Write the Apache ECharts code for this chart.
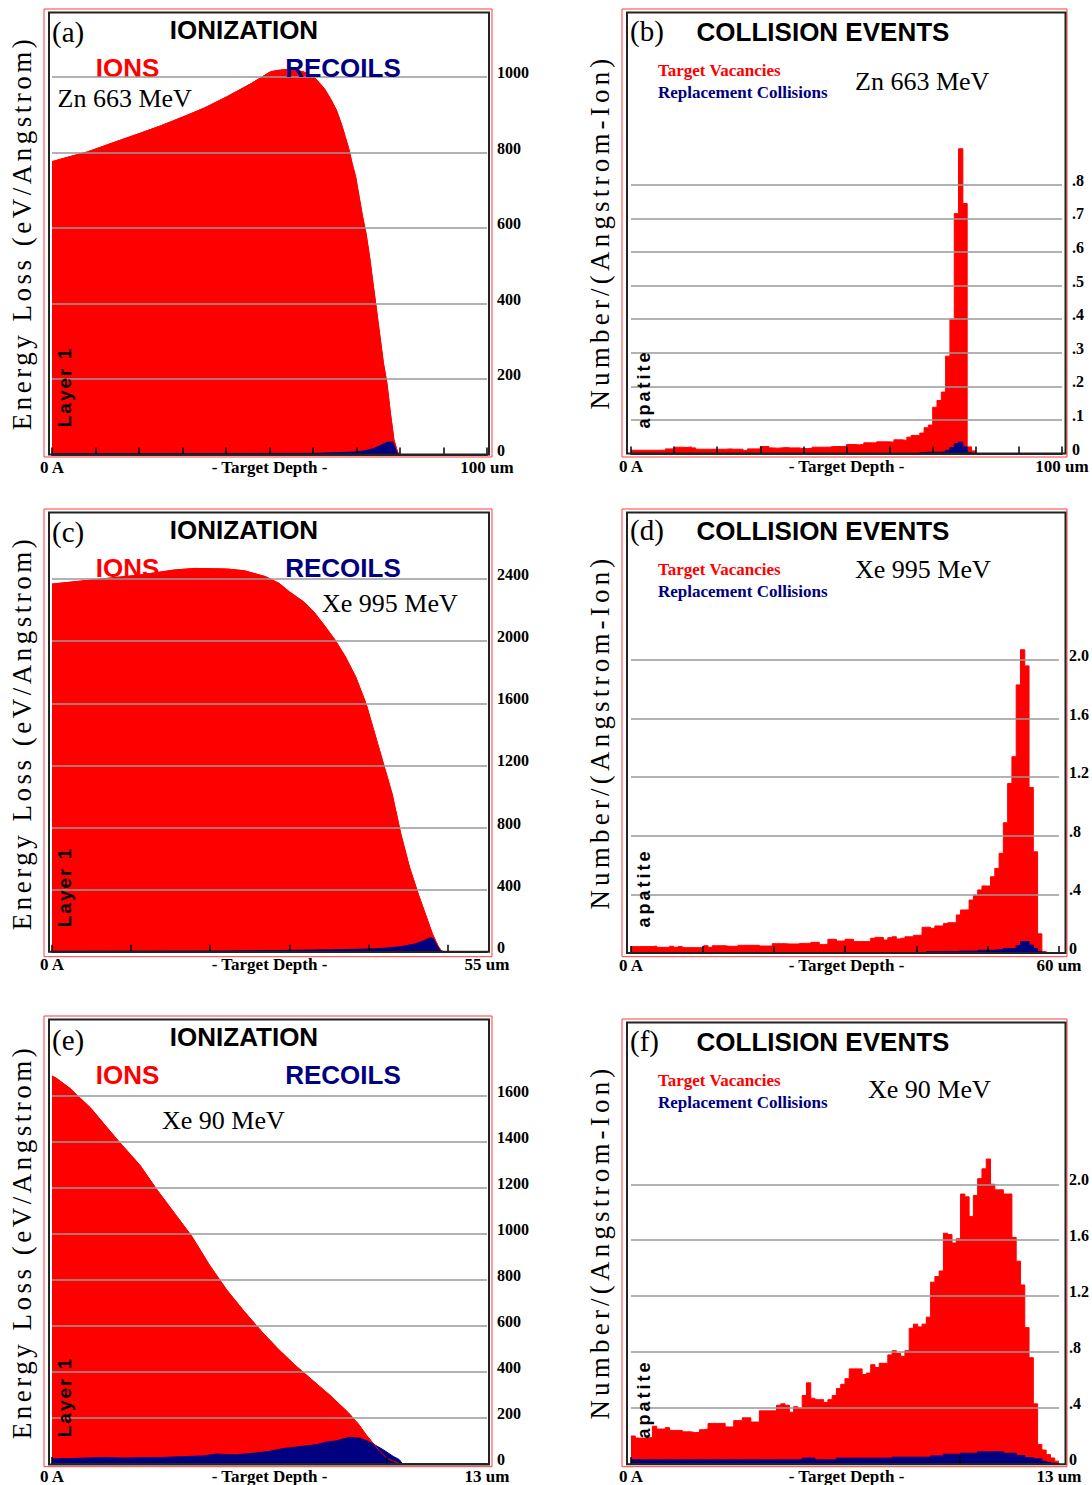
<!DOCTYPE html>
<html><head><meta charset="utf-8">
<script src="https://cdn.jsdelivr.net/npm/echarts@6/dist/echarts.min.js"></script>
<style>html,body{margin:0;padding:0;background:#fff}#c{width:1092px;height:1485px}</style>
</head><body><div id="c"></div>
<script>
// ================= DATA =================
const panelLetters = ['(a)', '(b)', '(c)', '(d)', '(e)', '(f)'];
const beamLabels = ['Zn 663 MeV', 'Zn 663 MeV', 'Xe 995 MeV', 'Xe 995 MeV', 'Xe 90 MeV', 'Xe 90 MeV'];
const depthMax = [100, 100, 55, 60, 13, 13];
const depthEndLabels = ['100 um', '100 um', '55 um', '60 um', '13 um', '13 um'];
const xTickValues = [
  [0, 10, 20, 30, 40, 50, 60, 70, 80, 90, 100],
  [0, 10, 20, 30, 40, 50, 60, 70, 80, 90, 100],
  [0, 10, 20, 30, 40, 50],
  [0, 10, 20, 30, 40, 50, 60],
  [0, 10],
  [0, 10]
];
const yAxisMax = [1170, 1.311, 2826, 3.004, 1924, 3.16];
const yTickValues = [
  [0, 200, 400, 600, 800, 1000],
  [0, 0.1, 0.2, 0.3, 0.4, 0.5, 0.6, 0.7, 0.8],
  [0, 400, 800, 1200, 1600, 2000, 2400],
  [0, 0.4, 0.8, 1.2, 1.6, 2.0],
  [0, 200, 400, 600, 800, 1000, 1200, 1400, 1600],
  [0, 0.4, 0.8, 1.2, 1.6, 2.0]
];
const yTickLabels = [
  ['0', '200', '400', '600', '800', '1000'],
  ['0', '.1', '.2', '.3', '.4', '.5', '.6', '.7', '.8'],
  ['0', '400', '800', '1200', '1600', '2000', '2400'],
  ['0', '.4', '.8', '1.2', '1.6', '2.0'],
  ['0', '200', '400', '600', '800', '1000', '1200', '1400', '1600'],
  ['0', '.4', '.8', '1.2', '1.6', '2.0']
];

// (a) Ionization, Zn 663 MeV (depth um, eV/Angstrom)
const aIonDepth = [0, 4, 8.2, 14, 20.2, 25, 30.2, 35, 40.2, 45.8, 50.2, 52, 53.8, 55.8, 57.8, 60.2, 62.6, 64.2, 65.4, 66.6, 67.4, 68.2, 69, 69.8, 70.6, 71.4, 72.2, 73, 73.8, 74.6, 75.4, 76.2, 77, 77.8, 78.6, 79.4, 79.8];
const aIonValue = [776, 789, 802, 826, 851, 871, 895, 918, 948, 983, 1014, 1018, 1020, 1019, 1014, 1001, 970, 939, 912, 873, 842, 811, 771, 736, 683, 630, 585, 524, 453, 383, 312, 241, 188, 109, 39, 8, 0];
const aRecDepth = [0, 60, 66, 70, 72, 74, 75.5, 77, 78.3, 79, 79.6];
const aRecValue = [2, 3, 5, 7, 10, 16, 24, 32, 34, 15, 0];

// (c) Ionization, Xe 995 MeV
const cIonDepth = [0, 4.9, 11.1, 15.5, 18.1, 22.1, 24.3, 27.0, 28.7, 30.0, 31.8, 33.1, 34.4, 35.8, 37.1, 38.4, 39.7, 40.8, 41.9, 43.0, 44.1, 45.2, 46.3, 47.2, 48.1, 48.8, 49.2, 49.4];
const cIonValue = [2368, 2394, 2426, 2459, 2469, 2465, 2454, 2416, 2373, 2319, 2254, 2190, 2104, 2007, 1899, 1770, 1598, 1405, 1211, 1017, 759, 544, 372, 243, 114, 39, 6, 0];
const cRecDepth = [0, 21.7, 28.7, 35.3, 39.7, 41.9, 44.1, 45.9, 47.0, 47.9, 48.3, 48.8, 49.2, 49.5];
const cRecValue = [2, 4, 8, 12, 17, 22, 32, 50, 71, 92, 80, 30, 8, 0];

// (e) Ionization, Xe 90 MeV
const eIonDepth = [0, 0.13, 0.54, 0.85, 1.16, 1.58, 2.0, 2.62, 3.14, 3.66, 4.18, 4.70, 5.22, 5.74, 6.26, 6.78, 7.30, 7.82, 8.34, 8.86, 9.17, 9.38, 9.59, 9.80, 10.0, 10.21, 10.42];
const eIonValue = [1685, 1675, 1631, 1588, 1545, 1472, 1400, 1299, 1190, 1089, 988, 865, 756, 663, 576, 496, 424, 359, 294, 222, 171, 128, 91, 55, 26, 12, 0];
const eRecDepth = [0, 0.6, 1.5, 2.1, 3.2, 4.5, 4.9, 5.5, 6.1, 6.5, 6.9, 7.5, 7.9, 8.2, 8.5, 8.9, 9.2, 9.4, 9.6, 9.9, 10.2, 10.38, 10.48];
const eRecValue = [22, 24, 28, 26, 28, 35, 43, 40, 48, 55, 67, 77, 84, 95, 101, 116, 112, 101, 87, 62, 33, 19, 0];

// (b) Collision events, Zn 663 MeV: 100 depth bins
const bVacancies = [
  0.01, 0.01, 0.01, 0.01, 0.01, 0.01, 0.01, 0.01, 0.014, 0.014,
  0.019, 0.019, 0.018, 0.02, 0.017, 0.013, 0.013, 0.013, 0.013, 0.013,
  0.013, 0.013, 0.014, 0.013, 0.013, 0.013, 0.009, 0.014, 0.014, 0.014,
  0.021, 0.021, 0.017, 0.016, 0.017, 0.018, 0.017, 0.017, 0.017, 0.015,
  0.015, 0.015, 0.019, 0.019, 0.019, 0.019, 0.021, 0.021, 0.021, 0.021,
  0.027, 0.027, 0.026, 0.027, 0.032, 0.032, 0.032, 0.035, 0.035, 0.035,
  0.034, 0.041, 0.041, 0.039, 0.049, 0.054, 0.054, 0.061, 0.077, 0.085,
  0.138, 0.158, 0.183, 0.29, 0.40, 0.714, 0.907, 0.744, 0.02, 0.008,
  0, 0, 0, 0, 0, 0, 0, 0, 0, 0,
  0, 0, 0, 0, 0, 0, 0, 0, 0, 0
];
const bReplacements = [
  0, 0, 0, 0, 0, 0, 0, 0, 0, 0,
  0, 0, 0, 0, 0, 0, 0, 0, 0, 0,
  0, 0, 0, 0, 0, 0, 0, 0, 0, 0,
  0, 0, 0, 0, 0, 0, 0, 0, 0, 0,
  0, 0, 0, 0, 0, 0, 0, 0, 0, 0,
  0, 0, 0, 0, 0, 0, 0, 0, 0, 0,
  0, 0, 0, 0, 0, 0, 0, 0.003, 0.004, 0.004,
  0.004, 0.004, 0.005, 0.01, 0.018, 0.03, 0.034, 0.02, 0.003, 0,
  0, 0, 0, 0, 0, 0, 0, 0, 0, 0,
  0, 0, 0, 0, 0, 0, 0, 0, 0, 0
];

// (d) Collision events, Xe 995 MeV: 100 depth bins
const dVacancies = [
  0.043, 0.043, 0.043, 0.043, 0.043, 0.047, 0.038, 0.038, 0.038, 0.045,
  0.038, 0.043, 0.036, 0.036, 0.036, 0.036, 0.036, 0.049, 0.038, 0.049,
  0.049, 0.049, 0.045, 0.045, 0.045, 0.052, 0.052, 0.052, 0.052, 0.052,
  0.047, 0.047, 0.047, 0.063, 0.063, 0.063, 0.061, 0.061, 0.061, 0.065,
  0.065, 0.065, 0.072, 0.072, 0.058, 0.058, 0.093, 0.093, 0.081, 0.081,
  0.093, 0.093, 0.077, 0.077, 0.077, 0.077, 0.10, 0.106, 0.104, 0.088,
  0.104, 0.11, 0.095, 0.10, 0.11, 0.11, 0.12, 0.12, 0.175, 0.175,
  0.168, 0.184, 0.184, 0.20, 0.206, 0.206, 0.259, 0.293, 0.293, 0.361,
  0.395, 0.43, 0.457, 0.457, 0.52, 0.577, 0.68, 0.889, 1.157, 1.34,
  1.83, 2.07, 1.96, 1.13, 0.69, 0.13, 0.01, 0, 0, 0
];
const dReplacements = [
  0, 0, 0, 0, 0, 0, 0, 0, 0, 0,
  0, 0, 0, 0, 0, 0, 0, 0, 0, 0,
  0, 0, 0, 0, 0, 0, 0, 0, 0, 0,
  0, 0, 0, 0, 0, 0, 0, 0, 0, 0,
  0, 0, 0, 0, 0, 0, 0, 0, 0, 0,
  0, 0, 0, 0, 0, 0, 0, 0, 0, 0,
  0, 0, 0, 0, 0, 0, 0, 0, 0, 0.008,
  0.008, 0.008, 0.008, 0.008, 0.008, 0.008, 0.012, 0.012, 0.012, 0.012,
  0.012, 0.018, 0.018, 0.018, 0.018, 0.022, 0.022, 0.03, 0.03, 0.03,
  0.05, 0.077, 0.077, 0.054, 0.03, 0.01, 0, 0, 0, 0
];

// (f) Collision events, Xe 90 MeV: 100 depth bins
const fVacancies = [
  0.20, 0.185, 0.185, 0.185, 0.19, 0.27, 0.25, 0.25, 0.26, 0.24,
  0.24, 0.24, 0.23, 0.23, 0.225, 0.225, 0.245, 0.25, 0.29, 0.29,
  0.29, 0.29, 0.265, 0.265, 0.31, 0.31, 0.33, 0.33, 0.30, 0.30,
  0.38, 0.38, 0.38, 0.38, 0.42, 0.43, 0.42, 0.37, 0.41, 0.40,
  0.49, 0.58, 0.47, 0.46, 0.46, 0.44, 0.46, 0.49, 0.54, 0.57,
  0.61, 0.68, 0.68, 0.68, 0.64, 0.65, 0.71, 0.69, 0.72, 0.72,
  0.78, 0.81, 0.79, 0.77, 0.81, 0.97, 1.0, 0.98, 1.0, 1.05,
  1.30, 1.34, 1.38, 1.65, 1.64, 1.58, 1.61, 1.93, 1.91, 1.77,
  1.92, 2.04, 2.11, 2.18, 2.0, 1.96, 1.96, 1.93, 1.93, 1.62,
  1.45, 1.28, 0.975, 0.76, 0.43, 0.14, 0.10, 0.067, 0.043, 0.02
];
const fReplacements = [
  0.03, 0.03, 0.03, 0.03, 0.03, 0.03, 0.03, 0.03, 0.03, 0.03,
  0.03, 0.03, 0.03, 0.03, 0.03, 0.03, 0.03, 0.03, 0.03, 0.03,
  0.03, 0.03, 0.03, 0.03, 0.03, 0.03, 0.03, 0.03, 0.03, 0.03,
  0.03, 0.03, 0.03, 0.03, 0.03, 0.03, 0.03, 0.03, 0.03, 0.03,
  0.042, 0.042, 0.042, 0.03, 0.03, 0.03, 0.03, 0.03, 0.042, 0.042,
  0.042, 0.042, 0.042, 0.042, 0.042, 0.042, 0.042, 0.042, 0.042, 0.042,
  0.042, 0.049, 0.049, 0.049, 0.049, 0.049, 0.049, 0.049, 0.049, 0.049,
  0.058, 0.058, 0.058, 0.07, 0.07, 0.07, 0.07, 0.077, 0.077, 0.077,
  0.077, 0.087, 0.087, 0.087, 0.087, 0.087, 0.087, 0.077, 0.077, 0.077,
  0.061, 0.061, 0.046, 0.046, 0.037, 0.037, 0.02, 0.012, 0.006, 0.002
];

// ================= CHART =================
const RED = '#ff0000', NAVY = '#000080';
const SERIF = '"Liberation Serif", "Times New Roman", serif';
const SANS = '"Liberation Sans", Arial, sans-serif';

const grids = [
  { left: 52, top: 13, width: 435, height: 441.5 },
  { left: 631, top: 13, width: 431, height: 440.6 },
  { left: 52, top: 513, width: 435, height: 438.7 },
  { left: 631, top: 513, width: 431, height: 439.9 },
  { left: 52, top: 1021, width: 435, height: 443.4 },
  { left: 631, top: 1022, width: 431, height: 442.2 }
];

function pointPairs(depths, values) { return depths.map((d, i) => [d, values[i]]); }
function binPairs(values, maxDepth) {
  const w = maxDepth / values.length;
  const pts = values.map((v, i) => [i * w, v]);
  pts.push([maxDepth, values[values.length - 1]]);
  return pts;
}

const xAxes = grids.map((g, i) => ({
  type: 'value', gridIndex: i, min: 0, max: depthMax[i], z: 5,
  axisLine: { show: true, onZero: false, lineStyle: { color: '#2a2a2a', width: 2 } },
  axisTick: { show: true, inside: true, length: 7, lineStyle: { color: '#000', width: 1.5 }, customValues: xTickValues[i] },
  axisLabel: {
    show: true, customValues: [0, depthMax[i]], margin: 4,
    formatter: v => (v === 0 ? '0 A' : depthEndLabels[i]),
    fontFamily: SERIF, fontWeight: 'bold', fontSize: 17, color: '#000'
  },
  splitLine: { show: false }
}));

const yAxes = grids.map((g, i) => ({
  type: 'value', gridIndex: i, position: 'right', min: 0, max: yAxisMax[i], z: 5,
  axisLine: { show: false },
  axisTick: { show: false, customValues: yTickValues[i] },
  axisLabel: {
    show: true, customValues: yTickValues[i], margin: 10, align: 'left',
    formatter: v => {
      const k = yTickValues[i].findIndex(t => Math.abs(t - v) < 1e-9);
      return k >= 0 ? yTickLabels[i][k] : '';
    },
    fontFamily: SERIF, fontWeight: 'bold', fontSize: 16, color: '#000',
    verticalAlign: 'bottom', lineHeight: 9
  },
  splitLine: { show: true, lineStyle: { color: '#999', width: 1.5 } }
}));

function area(i, data, color, z, step) {
  return {
    type: 'line', xAxisIndex: i, yAxisIndex: i, data: data, step: step ? 'end' : false,
    symbol: 'none', silent: true, z: z, animation: false,
    lineStyle: { color: color, width: 1 }, areaStyle: { color: color, opacity: 1 }
  };
}
function outline(i, data, color, z) {
  return {
    type: 'line', xAxisIndex: i, yAxisIndex: i, data: data, symbol: 'none', silent: true, z: z,
    lineStyle: { color: color, width: 1 }, animation: false
  };
}

const series = [
  area(0, pointPairs(aIonDepth, aIonValue), RED, 2),
  area(0, pointPairs(aRecDepth, aRecValue), NAVY, 3),
  outline(0, pointPairs(aIonDepth, aIonValue), RED, 4),
  area(1, binPairs(bVacancies, depthMax[1]), RED, 2, true),
  area(1, binPairs(bReplacements, depthMax[1]), NAVY, 3, true),
  area(2, pointPairs(cIonDepth, cIonValue), RED, 2),
  area(2, pointPairs(cRecDepth, cRecValue), NAVY, 3),
  outline(2, pointPairs(cIonDepth, cIonValue), RED, 4),
  area(3, binPairs(dVacancies, depthMax[3]), RED, 2, true),
  area(3, binPairs(dReplacements, depthMax[3]), NAVY, 3, true),
  area(4, pointPairs(eIonDepth, eIonValue), RED, 2),
  area(4, pointPairs(eRecDepth, eRecValue), NAVY, 3),
  outline(4, pointPairs(eIonDepth, eIonValue), RED, 4),
  area(5, binPairs(fVacancies, depthMax[5]), RED, 2, true),
  area(5, binPairs(fReplacements, depthMax[5]), NAVY, 3, true)
];

// ---- graphic: frames and texts ----
const G = [];
function txt(x, y, text, font, color, align, z, rot) {
  G.push({
    type: 'text', x: x, y: y, rotation: rot || 0, z: z == null ? 10 : z, silent: true,
    style: { text: text, font: font, fill: color, textAlign: align, textVerticalAlign: 'middle', align: align, verticalAlign: 'middle' }
  });
}
function frame(x, y, w, h, color, lw) {
  G.push({ type: 'rect', silent: true, z: 6, shape: { x: x, y: y, width: w, height: h }, style: { fill: 'none', stroke: color, lineWidth: lw } });
}

const rowFrames = [
  [9, 457, 9, 457], [509, 956.7, 509, 956.7], [1016, 1466.7, 1019, 1466.7]
];
rowFrames.forEach((r, k) => {
  frame(44, r[0], 448, r[1] - r[0], '#ff3b3b', 1);
  frame(622, r[2], 445, r[3] - r[2], '#ff3b3b', 1);
  frame(49, r[0] + 3.5, 440, grids[2 * k].top + grids[2 * k].height - r[0] - 3.5, '#222', 2);
  frame(627, r[2] + 3.5, 438.5, grids[2 * k + 1].top + grids[2 * k + 1].height - r[2] - 3.5, '#222', 2);
});

const LETTER = '29px ' + SERIF;
const TITLE = 'bold 26px ' + SANS;
const BEAM = '26px ' + SERIF;
const LEG = 'bold 17px ' + SERIF;
const YT = '27px ' + SERIF;
const DEPTH = 'bold 17px ' + SERIF;
const VERT = Math.PI / 2;

// x-axis caption, one per panel, centred under each plot on the tick-label line
grids.forEach(g => {
  txt(g.left + g.width / 2, g.top + g.height + 12.5, '- Target Depth -', DEPTH, '#000', 'center');
});

// left column (ionization)
const leftRows = [
  { letterY: 32, titleY: 30, ionsY: 67.5, beamX: 57.5, beamY: 98, axisY: 233, layerY: 387 },
  { letterY: 532, titleY: 530, ionsY: 567.5, beamX: 322, beamY: 603, axisY: 733, layerY: 887 },
  { letterY: 1040, titleY: 1037, ionsY: 1075, beamX: 162, beamY: 1120, axisY: 1242, layerY: 1397 }
];
leftRows.forEach((r, k) => {
  const p = 2 * k;
  txt(52, r.letterY, panelLetters[p], LETTER, '#000', 'left');
  txt(244, r.titleY, 'IONIZATION', TITLE, '#000', 'center');
  txt(127.5, r.ionsY, 'IONS', TITLE, RED, 'center', 1);
  txt(343, r.ionsY, 'RECOILS', TITLE, NAVY, 'center', 10);
  txt(r.beamX, r.beamY, beamLabels[p], BEAM, '#000', 'left');
  txt(22, r.axisY, 'Energy Loss (eV/Angstrom)', YT, '#000', 'center', 10, VERT);
  txt(64.5, r.layerY, 'Layer 1', 'bold 19px ' + SANS, '#000', 'center', 10, VERT);
});

// right column (collision events)
const rightRows = [
  { letterY: 31, titleY: 32, tvY: 70, rcY: 92, beamX: 855, beamY: 81, axisY: 232, apY: 389 },
  { letterY: 530, titleY: 530.5, tvY: 569, rcY: 591.5, beamX: 855, beamY: 569, axisY: 732, apY: 888 },
  { letterY: 1041, titleY: 1042, tvY: 1080, rcY: 1102, beamX: 868, beamY: 1089, axisY: 1242, apY: 1399 }
];
rightRows.forEach((r, k) => {
  const p = 2 * k + 1;
  txt(630, r.letterY, panelLetters[p], LETTER, '#000', 'left');
  txt(823, r.titleY, 'COLLISION EVENTS', TITLE, '#000', 'center');
  txt(658, r.tvY, 'Target Vacancies', LEG, RED, 'left');
  txt(658, r.rcY, 'Replacement Collisions', LEG, NAVY, 'left');
  txt(r.beamX, r.beamY, beamLabels[p], BEAM, '#000', 'left');
  txt(600, r.axisY, 'Number/(Angstrom-Ion)', YT, '#000', 'center', 10, VERT);
  txt(643.5, r.apY, 'apatite', 'bold 18px ' + SANS, '#000', 'center', 10, VERT);
});

const option = {
  animation: false,
  backgroundColor: '#fff',
  grid: grids.map(g => Object.assign({ containLabel: false, show: false }, g)),
  xAxis: xAxes,
  yAxis: yAxes,
  series: series,
  graphic: { elements: G }
};

const chart = echarts.init(document.getElementById('c'), null, { renderer: 'svg', width: 1092, height: 1485 });
chart.setOption(option);

const spacing = {
  'Energy Loss (eV/Angstrom)': '3.5px',
  'Number/(Angstrom-Ion)': '4.2px',
  'Layer 1': '2px',
  'apatite': '3px'
};
function applySpacing() {
  document.querySelectorAll('#c text').forEach(t => {
    const s = spacing[t.textContent];
    if (s) t.style.letterSpacing = s;
  });
}
applySpacing();
chart.on('finished', applySpacing);
setTimeout(applySpacing, 50);
</script>
</body></html>
